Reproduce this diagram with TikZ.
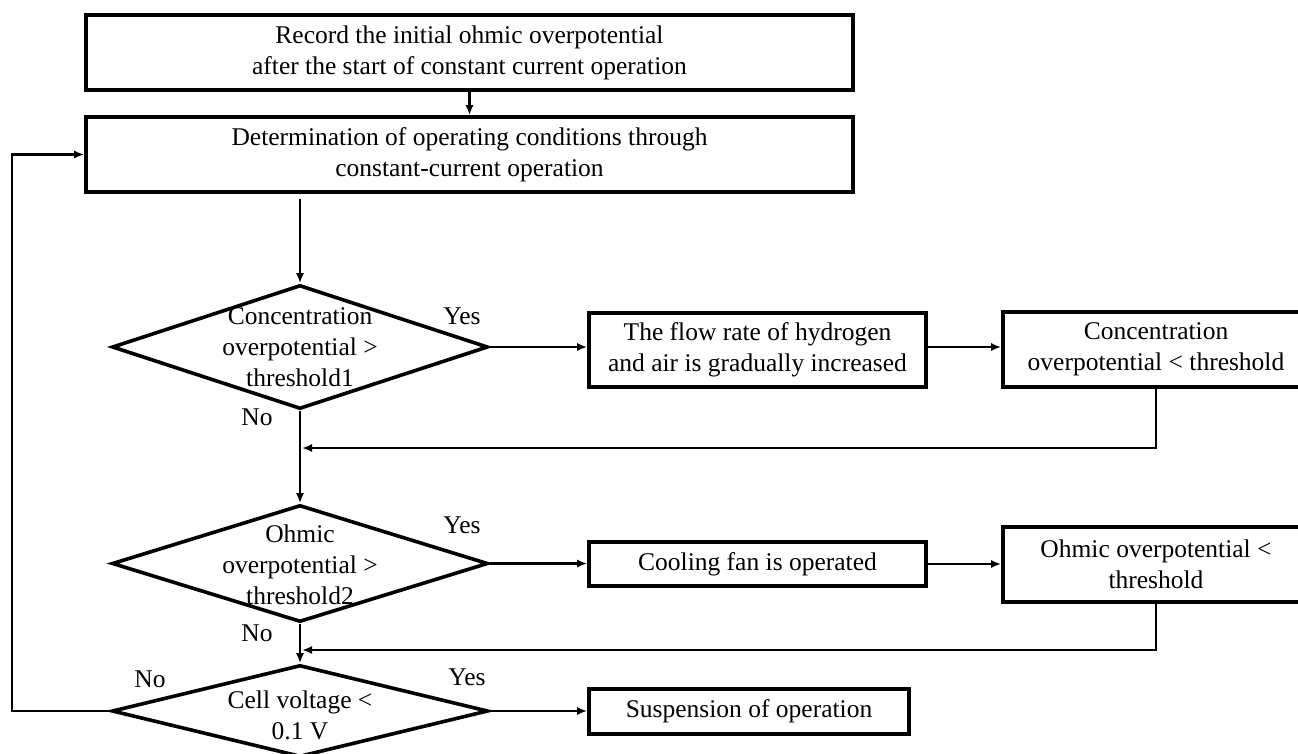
\documentclass[tikz,border=0pt]{standalone}
\usepackage{fontspec}
\setmainfont{Liberation Serif}
\usetikzlibrary{shapes.geometric,arrows.meta}
\begin{document}
\begin{tikzpicture}[x=1pt,y=-1pt,
  every node/.style={font=\fontsize{25.5}{31}\selectfont},
  box/.style={draw,line width=3.6pt,align=center,inner sep=0pt},
  dia/.style={draw,diamond,line width=3.6pt,inner sep=0pt},
  dtext/.style={align=center,inner sep=0pt},
  lbl/.style={inner sep=0pt},
  conn/.style={line width=2.2pt,-{Latex[length=10pt,width=8pt]}}]
\useasboundingbox (0,0) rectangle (1298,753);
% boxes
\node[box,minimum width=767pt,minimum height=75pt] (b1) at (469.5,52.5)
  {Record the initial ohmic overpotential\\after the start of constant current operation};
\node[box,minimum width=767pt,minimum height=75pt] (b2) at (469.5,154.5)
  {Determination of operating conditions through\\constant-current operation};
\node[box,minimum width=337pt,minimum height=74pt] (b3) at (757.5,350)
  {The flow rate of hydrogen\\and air is gradually increased};
\node[box,minimum width=306pt,minimum height=75pt] (b4) at (1156,349.5)
  {Concentration\\overpotential < threshold};
\node[box,minimum width=337pt,minimum height=44pt] (cool) at (757.5,564)
  {Cooling fan is operated};
\node[box,minimum width=306pt,minimum height=75pt] (ob) at (1156,564.5)
  {Ohmic overpotential <\\threshold};
\node[box,minimum width=320pt,minimum height=45pt] (susp) at (749,711.5)
  {Suspension of operation};
% diamonds
\node[dia,minimum width=376pt,minimum height=124pt] (d1) at (300,347) {};
\node[dtext] (t1) at (d1.center) {Concentration\\overpotential >\\threshold1};
\node[dia,minimum width=376pt,minimum height=117pt] (d2) at (300,563.5) {};
\node[dtext] (t2) at (300,565) {Ohmic\\overpotential >\\threshold2};
\node[dia,minimum width=376pt,minimum height=92pt] (cell) at (300,711) {};
\node[dtext] (t3) at (300,715) {Cell voltage <\\0.1 V};
% labels
\node[lbl] (y1) at (462,316) {Yes};
\node[lbl] (n1) at (257,417) {No};
\node[lbl] (y2) at (462,525) {Yes};
\node[lbl] (n2) at (257,633) {No};
\node[lbl] (y3) at (467,677) {Yes};
\node[lbl] (n3) at (150,679) {No};
% connectors
\coordinate (m1) at (302,448);
\coordinate (m2) at (302,650);
\coordinate (lp) at (12,711);
\draw[conn] (b1.south) -- (b2.north);
\draw[conn,shorten <=5pt] (d1.north |- b2.south) -- (d1.north);
\draw[conn] (d1.east) -- (d1.east -| b3.west);
\draw[conn] (b3.east |- d1.east) -- (d1.east -| b4.west);
\draw[conn] (b4.south) |- (m1);
\draw[conn] (d1.south) -- (d2.north);
\draw[conn] (d2.east) -- (d2.east -| cool.west);
\draw[conn] (cool.east) -- (cool.east -| ob.west);
\draw[conn] (ob.south) |- (m2);
\draw[conn] (d2.south) -- (cell.north);
\draw[conn] (cell.east) -- (cell.east -| susp.west);
\draw[conn] (cell.west) -- (lp) |- (b2.west);
\end{tikzpicture}
\end{document}
